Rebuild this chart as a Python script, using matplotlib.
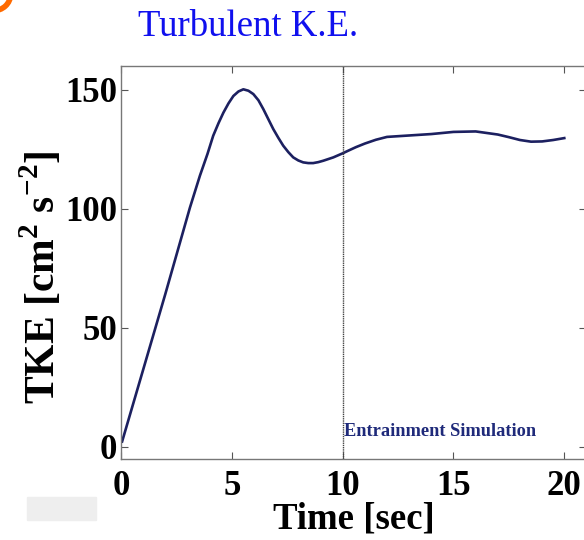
#!/usr/bin/env python3

import matplotlib
matplotlib.use("Agg")
import matplotlib.pyplot as plt
from matplotlib.patches import Circle, Rectangle

# TKE history
time = [0.05, 1.0, 2.0, 3.11, 3.56, 3.9, 4.16, 4.4, 4.62, 4.85, 5.07, 5.3, 5.52,
        5.75, 5.97, 6.2, 6.42, 6.65, 6.87, 7.1, 7.32, 7.55, 7.77, 8.0, 8.22,
        8.45, 8.67, 8.9, 9.13, 9.58, 10.0, 10.25, 10.6, 11.0, 11.5, 12.0,
        13.0, 14.0, 15.0, 16.0, 17.0, 17.5, 18.0, 18.5, 19.0, 19.5, 20.0]
tke = [2.2, 32.4, 64.2, 100.5, 113.9, 123.0, 130.7, 136.0, 140.4, 144.3, 147.4,
       149.3, 150.2, 149.6, 148.2, 145.6, 141.9, 137.6, 133.5, 129.8, 126.5,
       123.8, 121.6, 120.3, 119.5, 119.2, 119.2, 119.6, 120.2, 121.6, 123.3,
       124.4, 125.9, 127.4, 129.0, 130.2, 130.8, 131.4, 132.3, 132.5, 131.2,
       130.1, 128.9, 128.2, 128.3, 128.9, 129.7]

xticks = [0, 5, 10, 15, 20]
yticks = [0, 50, 100, 150]
entrainStart = 10

serif = ['Liberation Serif', 'DejaVu Serif']
plt.rcParams['font.family'] = serif
plt.rcParams['mathtext.fontset'] = 'custom'
plt.rcParams['mathtext.rm'] = 'Liberation Serif'
plt.rcParams['mathtext.bf'] = 'Liberation Serif:bold'

fig = plt.figure(figsize=(5.84, 5.4), dpi=100)
ax = fig.add_axes([0.2072, 0.1506, 0.797, 0.7272])

ax.plot(time, tke, '-', color='#1c2060', lw=1.9)
ax.axvline(entrainStart, color='#444444', lw=1.0, ls=(0, (1, 0.6)))
ax.text(entrainStart + 0.05, 3, 'Entrainment Simulation', color='#1f2a7a',
        fontsize=13.2, fontweight='bold', ha='left', va='bottom')

ax.set_xlim(0, 21)
ax.set_ylim(-5, 160)
ax.set_xticks(xticks)
ax.set_yticks(yticks)
ax.tick_params(direction='in', top=True, right=True, length=5, width=0.8,
               color='#555555', labelsize=25)
ax.tick_params(axis='x', pad=8)
ax.tick_params(axis='y', pad=3)
for lab in ax.get_xticklabels() + ax.get_yticklabels():
  lab.set_fontweight('bold')
for sp in ax.spines.values():
  sp.set_color('#777777')
  sp.set_linewidth(1.0)

ax.set_xlabel('Time [sec]', fontsize=26.5, fontweight='bold', labelpad=-1)
ax.set_ylabel(r'TKE [cm$^{\mathbf{2}}$ s$^{\mathbf{-2}}$]', fontsize=30,
              fontweight='bold')
ax.yaxis.set_label_coords(-0.122, 0.462)

fig.text(0.425, 0.950, 'Turbulent K.E.', color='#1010ee', fontsize=26.5,
         ha='center', va='center')

# slide decorations
fig.patches.append(Circle((-0.012, 1.01), 0.03, transform=fig.transFigure,
                          fill=False, ec='#ff6a00', lw=4))
fig.patches.append(Rectangle((27/584, 1 - 520/540), 69/584, 23/540,
                             transform=fig.transFigure, color='#eeeeee'))

fig.savefig('out.png', dpi=100)
